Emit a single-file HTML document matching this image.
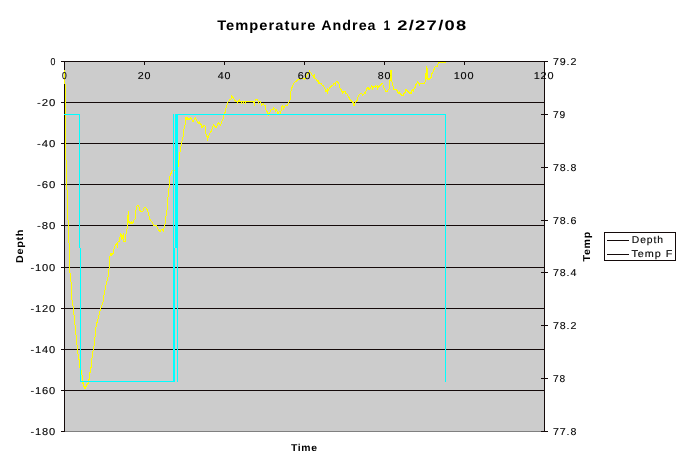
<!DOCTYPE html><html><head><meta charset="utf-8"><style>html,body{margin:0;padding:0;background:#fff;width:683px;height:467px;overflow:hidden}svg{display:block;will-change:transform}text{font-family:"Liberation Sans",sans-serif;fill:#000;text-rendering:geometricPrecision}</style></head><body>
<svg width="683" height="467" viewBox="0 0 683 467">
<rect x="64" y="61" width="481" height="371" fill="#cccccc"/>
<g shape-rendering="crispEdges" stroke-width="1" fill="none">
<path d="M64,431.5H545" stroke="#808080"/>
<path d="M64,102.5H545M64,143.5H545M64,184.5H545M64,225.5H545M64,267.5H545M64,308.5H545M64,349.5H545M64,390.5H545" stroke="#140a0a"/>
</g>
<g shape-rendering="crispEdges" fill="none" stroke="#140a0a">
<path d="M64.5,61V432M544.5,61V432M61,61.5H548"/>
<path d="M61,102.5H64M61,143.5H64M61,184.5H64M61,225.5H64M61,267.5H64M61,308.5H64M61,349.5H64M61,390.5H64M61,431.5H64"/>
<path d="M541,114.5H548M541,167.5H548M541,220.5H548M541,272.5H548M541,325.5H548M541,378.5H548M541,431.5H548"/>
<path d="M64.5,62V65M144.5,62V65M224.5,62V65M304.5,62V65M384.5,62V65M464.5,62V65M544.5,62V65"/>
<rect x="604.5" y="232.5" width="71" height="28"/>
<path d="M607,240.5H629M607,254.5H629"/>
</g>
<polyline points="64.5,70 65,84 65,130 66,160 67,190 68,220 69.3,250 69.3,267 70.3,275 71.3,285 72,300 73.3,308 75,325 77.5,350" fill="none" stroke="#ffff00" stroke-width="1" shape-rendering="crispEdges"/>
<polyline points="91.5,360 92.4,355.8 93.3,349 94.4,345 95.3,333 96.2,325 97.5,321 99.7,312 100.9,308.6 103.5,300 104,295 106,285 108.6,275 109.1,267.8 109.5,262" fill="none" stroke="#ffff00" stroke-width="1" shape-rendering="crispEdges"/>
<polyline points="167.5,198.5 167.7,199 168.9,190 169.6,177.3 172,170.9 174.5,170.5 178.3,166.7 179.3,157 180.8,146.4 181.5,145.5" fill="none" stroke="#ffff00" stroke-width="1" shape-rendering="crispEdges"/>
<path d="M77,350h1v4h-1zM78,354h1v6h-1zM79,359h1v9h-1zM80,368h1v2h-1zM81,370h1v5h-1zM82,375h1v9h-1zM83,382h1v5h-1zM84,386h1v3h-1zM85,386h1v3h-1zM86,384h1v3h-1zM87,383h1v2h-1zM88,379h1v5h-1zM89,372h1v8h-1zM90,367h1v6h-1zM91,360h1v8h-1zM109,256h1v6h-1zM110,253h1v3h-1zM111,253h1v3h-1zM112,253h1v2h-1zM113,249h1v5h-1zM114,246h1v3h-1zM115,244h1v2h-1zM116,243h1v2h-1zM117,242h1v6h-1zM118,241h1v1h-1zM119,237h1v5h-1zM120,233h1v4h-1zM121,234h1v6h-1zM122,235h1v4h-1zM123,233h1v9h-1zM124,241h1v1h-1zM125,234h1v8h-1zM126,229h1v5h-1zM127,215h1v14h-1zM128,211h1v12h-1zM129,221h1v3h-1zM130,222h1v2h-1zM131,221h1v3h-1zM132,222h1v2h-1zM133,220h1v3h-1zM134,219h1v1h-1zM135,210h1v9h-1zM136,206h1v4h-1zM137,205h1v1h-1zM138,205h1v2h-1zM139,207h1v4h-1zM140,210h1v2h-1zM141,211h1v1h-1zM142,211h1v1h-1zM143,208h1v3h-1zM144,207h1v1h-1zM145,207h1v1h-1zM146,208h1v2h-1zM147,209h1v3h-1zM148,212h1v4h-1zM149,216h1v4h-1zM150,219h1v2h-1zM151,221h1v1h-1zM152,222h1v2h-1zM153,224h1v2h-1zM154,225h1v1h-1zM155,225h1v1h-1zM156,225h1v2h-1zM157,227h1v2h-1zM158,229h1v2h-1zM159,230h1v2h-1zM160,230h1v2h-1zM161,229h1v1h-1zM162,229h1v2h-1zM163,228h1v4h-1zM164,224h1v4h-1zM165,216h1v8h-1zM166,210h1v6h-1zM167,198h1v12h-1zM181,141h1v5h-1zM182,137h1v4h-1zM183,129h1v8h-1zM184,125h1v4h-1zM185,117h1v8h-1zM186,117h1v3h-1zM187,117h1v3h-1zM188,118h1v2h-1zM189,118h1v2h-1zM190,117h1v2h-1zM191,118h1v2h-1zM192,120h1v2h-1zM193,120h1v2h-1zM194,118h1v2h-1zM195,117h1v2h-1zM196,119h1v2h-1zM197,121h1v2h-1zM198,122h1v2h-1zM199,121h1v3h-1zM200,123h1v2h-1zM201,124h1v4h-1zM202,126h1v2h-1zM203,125h1v2h-1zM204,125h1v1h-1zM205,126h1v8h-1zM206,134h1v3h-1zM207,136h1v5h-1zM208,135h1v3h-1zM209,133h1v2h-1zM210,131h1v2h-1zM211,129h1v3h-1zM212,126h1v3h-1zM213,124h1v2h-1zM214,125h1v2h-1zM215,126h1v2h-1zM216,126h1v2h-1zM217,123h1v3h-1zM218,122h1v2h-1zM219,123h1v2h-1zM220,124h1v2h-1zM221,121h1v3h-1zM222,119h1v2h-1zM223,114h1v5h-1zM224,112h1v2h-1zM225,108h1v5h-1zM226,105h1v3h-1zM227,102h1v3h-1zM228,101h1v1h-1zM229,99h1v2h-1zM230,99h1v1h-1zM231,95h1v4h-1zM232,96h1v2h-1zM233,97h1v2h-1zM234,99h1v2h-1zM235,100h1v2h-1zM236,101h1v1h-1zM237,101h1v3h-1zM238,100h1v2h-1zM239,99h1v3h-1zM240,101h1v1h-1zM241,101h1v3h-1zM242,101h1v1h-1zM243,101h1v3h-1zM244,101h1v1h-1zM245,101h1v3h-1zM246,101h1v1h-1zM247,101h1v1h-1zM248,101h1v1h-1zM249,101h1v1h-1zM250,101h1v1h-1zM251,101h1v1h-1zM252,101h1v1h-1zM253,101h1v2h-1zM254,101h1v5h-1zM255,99h1v2h-1zM256,99h1v1h-1zM257,99h1v2h-1zM258,101h1v3h-1zM259,101h1v1h-1zM260,101h1v2h-1zM261,103h1v3h-1zM262,104h1v1h-1zM263,103h1v2h-1zM264,105h1v1h-1zM265,105h1v5h-1zM266,110h1v2h-1zM267,111h1v3h-1zM268,113h1v3h-1zM269,112h1v2h-1zM270,110h1v2h-1zM271,109h1v1h-1zM272,109h1v1h-1zM273,107h1v3h-1zM274,108h1v1h-1zM275,109h1v3h-1zM276,109h1v2h-1zM277,111h1v3h-1zM278,112h1v2h-1zM279,111h1v1h-1zM280,111h1v3h-1zM281,106h1v5h-1zM282,105h1v2h-1zM283,106h1v4h-1zM284,106h1v2h-1zM285,105h1v1h-1zM286,105h1v1h-1zM287,104h1v2h-1zM288,102h1v2h-1zM289,100h1v2h-1zM290,91h1v9h-1zM291,87h1v4h-1zM292,85h1v3h-1zM293,83h1v2h-1zM294,82h1v1h-1zM295,81h1v1h-1zM296,80h1v2h-1zM297,79h1v2h-1zM298,79h1v1h-1zM299,78h1v2h-1zM300,78h1v1h-1zM301,78h1v1h-1zM302,78h1v1h-1zM303,78h1v1h-1zM304,78h1v2h-1zM305,76h1v3h-1zM306,75h1v2h-1zM307,73h1v2h-1zM308,72h1v2h-1zM309,70h1v2h-1zM310,72h1v1h-1zM311,73h1v2h-1zM312,75h1v1h-1zM313,75h1v3h-1zM314,74h1v5h-1zM315,78h1v1h-1zM316,79h1v2h-1zM317,80h1v2h-1zM318,80h1v4h-1zM319,82h1v2h-1zM320,83h1v1h-1zM321,83h1v2h-1zM322,85h1v1h-1zM323,85h1v2h-1zM324,87h1v2h-1zM325,89h1v3h-1zM326,90h1v2h-1zM327,88h1v6h-1zM328,89h1v2h-1zM329,87h1v2h-1zM330,86h1v2h-1zM331,85h1v2h-1zM332,85h1v1h-1zM333,83h1v2h-1zM334,83h1v1h-1zM335,82h1v4h-1zM336,81h1v1h-1zM337,81h1v2h-1zM338,82h1v2h-1zM339,84h1v4h-1zM340,88h1v2h-1zM341,89h1v3h-1zM342,91h1v3h-1zM343,91h1v2h-1zM344,91h1v1h-1zM345,91h1v3h-1zM346,93h1v1h-1zM347,94h1v2h-1zM348,96h1v2h-1zM349,97h1v3h-1zM350,99h1v2h-1zM351,100h1v2h-1zM352,101h1v2h-1zM353,102h1v4h-1zM354,103h1v3h-1zM355,101h1v2h-1zM356,100h1v2h-1zM357,97h1v4h-1zM358,95h1v2h-1zM359,94h1v1h-1zM360,93h1v1h-1zM361,93h1v1h-1zM362,94h1v2h-1zM363,94h1v1h-1zM364,92h1v2h-1zM365,91h1v3h-1zM366,88h1v3h-1zM367,87h1v2h-1zM368,87h1v3h-1zM369,88h1v2h-1zM370,87h1v2h-1zM371,85h1v2h-1zM372,86h1v4h-1zM373,86h1v2h-1zM374,86h1v1h-1zM375,85h1v3h-1zM376,86h1v1h-1zM377,85h1v5h-1zM378,86h1v2h-1zM379,85h1v2h-1zM380,84h1v2h-1zM381,83h1v2h-1zM382,83h1v1h-1zM383,85h1v3h-1zM384,88h1v2h-1zM385,90h1v2h-1zM386,91h1v1h-1zM387,90h1v2h-1zM388,89h1v1h-1zM389,80h1v9h-1zM390,70h1v11h-1zM391,70h1v12h-1zM392,82h1v4h-1zM393,86h1v4h-1zM394,89h1v1h-1zM395,89h1v1h-1zM396,89h1v2h-1zM397,90h1v3h-1zM398,92h1v2h-1zM399,91h1v3h-1zM400,93h1v2h-1zM401,94h1v2h-1zM402,95h1v1h-1zM403,93h1v3h-1zM404,92h1v2h-1zM405,89h1v4h-1zM406,89h1v2h-1zM407,90h1v2h-1zM408,91h1v2h-1zM409,92h1v2h-1zM410,92h1v2h-1zM411,90h1v4h-1zM412,89h1v2h-1zM413,89h1v3h-1zM414,87h1v2h-1zM415,84h1v4h-1zM416,83h1v2h-1zM417,81h1v2h-1zM418,82h1v2h-1zM419,83h1v3h-1zM420,83h1v1h-1zM421,83h1v1h-1zM422,83h1v1h-1zM423,83h1v1h-1zM424,82h1v2h-1zM425,73h1v9h-1zM426,66h1v13h-1zM427,68h1v12h-1zM428,78h1v2h-1zM429,78h1v2h-1zM430,77h1v2h-1zM431,73h1v5h-1zM432,72h1v2h-1zM433,69h1v3h-1zM434,67h1v3h-1zM435,66h1v1h-1zM436,66h1v1h-1zM437,64h1v3h-1zM438,62h1v2h-1zM439,62h1v1h-1zM440,62h1v1h-1zM441,62h1v1h-1zM442,62h1v1h-1zM443,62h1v1h-1zM444,62h1v1h-1zM445,62h1v1h-1z" fill="#ffff00" shape-rendering="crispEdges"/>
<g shape-rendering="crispEdges" fill="#00ffff">
<rect x="64" y="114" width="16" height="1"/>
<rect x="79" y="114" width="1" height="134"/>
<rect x="80" y="248" width="1" height="134"/>
<rect x="80" y="381" width="95" height="1"/>
<rect x="173" y="114" width="1" height="268"/>
<rect x="174" y="248" width="1" height="134"/>
<rect x="175" y="114" width="2" height="134"/>
<rect x="177" y="114" width="1" height="268"/>
<rect x="175" y="114" width="271" height="1"/>
<rect x="445" y="114" width="1" height="268"/>
</g>
<text x="217.20" y="30" font-size="14" font-weight="bold" letter-spacing="1.0" textLength="99.20" lengthAdjust="spacingAndGlyphs">Temperature</text>
<text x="321.20" y="30" font-size="14" font-weight="bold" letter-spacing="1.0" textLength="55.40" lengthAdjust="spacingAndGlyphs">Andrea</text>
<text x="383.60" y="30" font-size="14" font-weight="bold" letter-spacing="1.0" textLength="7.60" lengthAdjust="spacingAndGlyphs">1</text>
<text x="397.20" y="30" font-size="14" font-weight="bold" letter-spacing="1.0" textLength="70.40" lengthAdjust="spacingAndGlyphs">2/27/08</text>
<text x="50.60" y="65" font-size="10" stroke="#000" stroke-width="0.12" letter-spacing="0.8" textLength="5.60" lengthAdjust="spacingAndGlyphs">0</text>
<text x="37.00" y="106" font-size="10" stroke="#000" stroke-width="0.12" letter-spacing="0.8" textLength="19.20" lengthAdjust="spacingAndGlyphs">-20</text>
<text x="37.00" y="147" font-size="10" stroke="#000" stroke-width="0.12" letter-spacing="0.8" textLength="19.20" lengthAdjust="spacingAndGlyphs">-40</text>
<text x="37.00" y="188" font-size="10" stroke="#000" stroke-width="0.12" letter-spacing="0.8" textLength="19.20" lengthAdjust="spacingAndGlyphs">-60</text>
<text x="37.00" y="229" font-size="10" stroke="#000" stroke-width="0.12" letter-spacing="0.8" textLength="19.20" lengthAdjust="spacingAndGlyphs">-80</text>
<text x="30.40" y="271" font-size="10" stroke="#000" stroke-width="0.12" letter-spacing="0.8" textLength="25.80" lengthAdjust="spacingAndGlyphs">-100</text>
<text x="30.40" y="312" font-size="10" stroke="#000" stroke-width="0.12" letter-spacing="0.8" textLength="25.80" lengthAdjust="spacingAndGlyphs">-120</text>
<text x="30.40" y="353" font-size="10" stroke="#000" stroke-width="0.12" letter-spacing="0.8" textLength="25.80" lengthAdjust="spacingAndGlyphs">-140</text>
<text x="30.40" y="394" font-size="10" stroke="#000" stroke-width="0.12" letter-spacing="0.8" textLength="25.80" lengthAdjust="spacingAndGlyphs">-160</text>
<text x="30.40" y="435" font-size="10" stroke="#000" stroke-width="0.12" letter-spacing="0.8" textLength="25.80" lengthAdjust="spacingAndGlyphs">-180</text>
<text x="553.00" y="65" font-size="10" stroke="#000" stroke-width="0.12" letter-spacing="0.8" textLength="24.20" lengthAdjust="spacingAndGlyphs">79.2</text>
<text x="553.00" y="118" font-size="10" stroke="#000" stroke-width="0.12" letter-spacing="0.8" textLength="13.00" lengthAdjust="spacingAndGlyphs">79</text>
<text x="553.00" y="171" font-size="10" stroke="#000" stroke-width="0.12" letter-spacing="0.8" textLength="24.20" lengthAdjust="spacingAndGlyphs">78.8</text>
<text x="553.00" y="224" font-size="10" stroke="#000" stroke-width="0.12" letter-spacing="0.8" textLength="24.20" lengthAdjust="spacingAndGlyphs">78.6</text>
<text x="553.00" y="276" font-size="10" stroke="#000" stroke-width="0.12" letter-spacing="0.8" textLength="24.20" lengthAdjust="spacingAndGlyphs">78.4</text>
<text x="553.00" y="329" font-size="10" stroke="#000" stroke-width="0.12" letter-spacing="0.8" textLength="24.20" lengthAdjust="spacingAndGlyphs">78.2</text>
<text x="553.00" y="382" font-size="10" stroke="#000" stroke-width="0.12" letter-spacing="0.8" textLength="13.00" lengthAdjust="spacingAndGlyphs">78</text>
<text x="553.00" y="435" font-size="10" stroke="#000" stroke-width="0.12" letter-spacing="0.8" textLength="24.20" lengthAdjust="spacingAndGlyphs">77.8</text>
<text x="61.90" y="79" font-size="10" stroke="#000" stroke-width="0.12" letter-spacing="0.8" textLength="5.40" lengthAdjust="spacingAndGlyphs">0</text>
<text x="137.80" y="79" font-size="10" stroke="#000" stroke-width="0.12" letter-spacing="0.8" textLength="13.60" lengthAdjust="spacingAndGlyphs">20</text>
<text x="217.80" y="79" font-size="10" stroke="#000" stroke-width="0.12" letter-spacing="0.8" textLength="13.60" lengthAdjust="spacingAndGlyphs">40</text>
<text x="297.80" y="79" font-size="10" stroke="#000" stroke-width="0.12" letter-spacing="0.8" textLength="13.60" lengthAdjust="spacingAndGlyphs">60</text>
<text x="377.80" y="79" font-size="10" stroke="#000" stroke-width="0.12" letter-spacing="0.8" textLength="13.60" lengthAdjust="spacingAndGlyphs">80</text>
<text x="453.70" y="79" font-size="10" stroke="#000" stroke-width="0.12" letter-spacing="0.8" textLength="20.80" lengthAdjust="spacingAndGlyphs">100</text>
<text x="533.70" y="79" font-size="10" stroke="#000" stroke-width="0.12" letter-spacing="0.8" textLength="20.80" lengthAdjust="spacingAndGlyphs">120</text>
<text x="291.00" y="451" font-size="10" font-weight="bold" letter-spacing="0.6" textLength="26.60" lengthAdjust="spacingAndGlyphs">Time</text>
<text transform="translate(23.2,263.00) rotate(-90)" font-size="10" font-weight="bold" letter-spacing="0.6" textLength="34.00" lengthAdjust="spacingAndGlyphs">Depth</text>
<text transform="translate(590,261.40) rotate(-90)" font-size="10" font-weight="bold" letter-spacing="0.6" textLength="30.20" lengthAdjust="spacingAndGlyphs">Temp</text>
<text x="631.80" y="243" font-size="10" stroke="#000" stroke-width="0.12" letter-spacing="0.9" textLength="32.20" lengthAdjust="spacingAndGlyphs">Depth</text>
<text x="631.40" y="256.7" font-size="10" stroke="#000" stroke-width="0.12" letter-spacing="0.9" textLength="42.00" lengthAdjust="spacingAndGlyphs">Temp F</text>
</svg></body></html>
